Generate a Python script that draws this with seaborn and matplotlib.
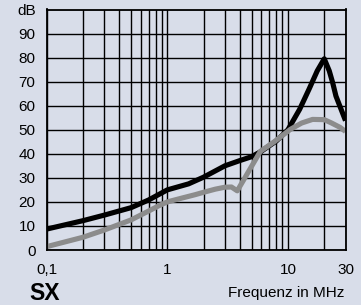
import matplotlib
matplotlib.use("Agg")
import matplotlib.pyplot as plt
import seaborn as sns
import pandas as pd
import numpy as np

# Data
freq_black = [0.1, 0.2, 0.3, 0.5, 0.7, 1, 1.5, 2, 3, 4, 5, 6, 8, 10, 12.5, 15, 17.5, 20, 22, 23.5, 25, 30]
level_black = [8.7, 12.2, 14.5, 17.6, 20.8, 25, 27.5, 30.3, 35, 37.2, 38.8, 41, 45.3, 50, 58.5, 67, 74.5, 79.5, 74.5, 69.5, 64, 53.8]

freq_gray = [0.1, 0.2, 0.3, 0.5, 0.7, 0.85, 1, 1.3, 1.7, 2, 2.5, 3, 3.4, 3.8, 5.9, 7.6, 10.5, 13, 16, 20, 23, 27, 30]
level_gray = [1.4, 5.3, 8.3, 12.5, 16.2, 18.4, 20, 21.5, 23, 24, 25.3, 26.1, 26.2, 24.6, 41, 44.8, 50.2, 52.8, 54.3, 54.2, 52.8, 51, 49.3]

x_ticks = [0.1, 1, 10, 30]
x_tick_labels = ["0,1", "1", "10", "30"]
y_ticks = [0, 10, 20, 30, 40, 50, 60, 70, 80, 90, 100]
y_tick_labels = ["0", "10", "20", "30", "40", "50", "60", "70", "80", "90", "dB"]

bg = "#d8dde9"

sns.set_style("white")
plt.rcParams["font.family"] = ["Liberation Sans", "DejaVu Sans"]

fig = plt.figure(figsize=(3.61, 3.05), dpi=100, facecolor=bg)
ax = fig.add_axes([46.7 / 361, 1 - 250 / 305, (345.5 - 46.7) / 361, (250 - 9.5) / 305])
ax.set_facecolor(bg)

df_b = pd.DataFrame({"f": freq_black, "v": level_black})
df_g = pd.DataFrame({"f": freq_gray, "v": level_gray})

sns.lineplot(data=df_b, x="f", y="v", ax=ax, color="black", linewidth=3.7,
             solid_capstyle="butt", solid_joinstyle="round", zorder=3)
sns.lineplot(data=df_g, x="f", y="v", ax=ax, color="#8c8c8c", linewidth=3.7,
             solid_capstyle="butt", solid_joinstyle="round", zorder=4)

ax.set_xscale("log")
ax.set_xlim(0.1, 30)
ax.set_ylim(0, 100)

# grid lines
minor = list(np.arange(0.2, 1.0, 0.1)) + list(np.arange(2, 10, 1)) + [20]
ax.set_xticks(x_ticks)
ax.set_xticklabels(x_tick_labels)
ax.set_xticks(minor, minor=True)
ax.xaxis.set_minor_formatter(matplotlib.ticker.NullFormatter())
ax.set_yticks(y_ticks)
ax.set_yticklabels(y_tick_labels)
ax.grid(True, which="both", axis="both", color="black", linewidth=1.0, zorder=1)
ax.set_axisbelow(True)

ax.tick_params(axis="both", which="both", length=0, labelsize=11, colors="black")
ax.tick_params(axis="y", pad=8)
ax.tick_params(axis="x", pad=9)

for s in ax.spines.values():
    s.set_color("black")
    s.set_linewidth(1.3)
    s.set_zorder(5)

ax.set_xlabel("")
ax.set_ylabel("")

fig.text(29 / 361, 1 - 300 / 305, "SX", fontsize=16.5, fontweight="bold",
         ha="left", va="baseline", color="black")
fig.text(344 / 361, 1 - 296.5 / 305, "Frequenz in MHz", fontsize=11,
         ha="right", va="baseline", color="black")

fig.savefig("out.png", dpi=100, facecolor=bg)
